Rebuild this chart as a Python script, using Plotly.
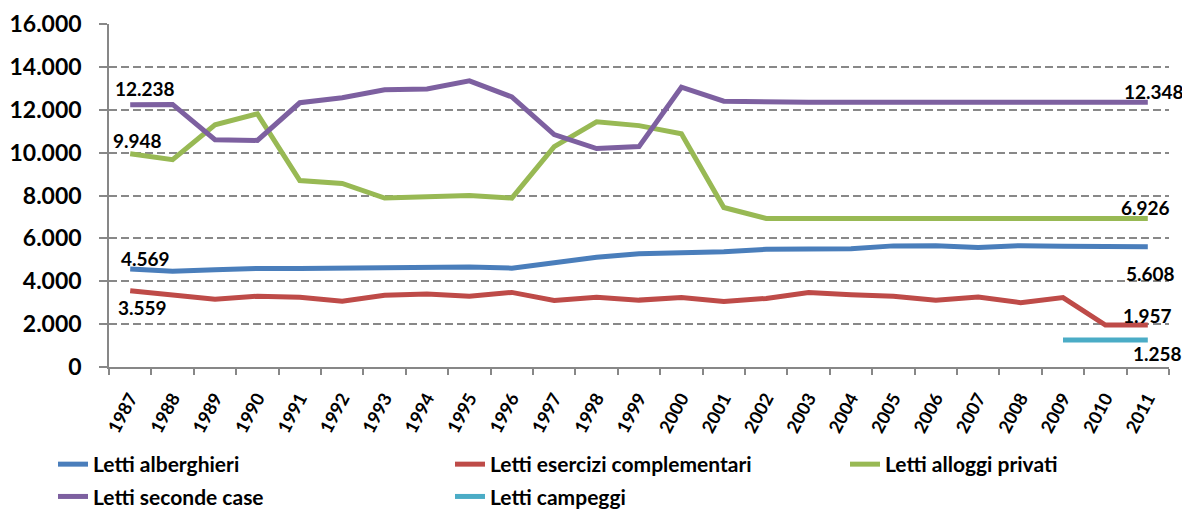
import plotly.graph_objects as go

years = [str(y) for y in range(1987, 2012)]

alberghieri = [4569, 4470, 4540, 4600, 4600, 4630, 4620, 4650, 4670, 4610, 4880, 5120, 5280, 5330, 5380,
               5490, 5490, 5520, 5650, 5660, 5570, 5660, 5630, 5630, 5608]
complementari = [3559, 3350, 3160, 3300, 3250, 3070, 3350, 3400, 3300, 3480, 3100, 3250, 3120, 3240, 3060,
                 3200, 3480, 3370, 3300, 3120, 3270, 3000, 3240, 1957, 1957]
alloggi_privati = [9948, 9670, 11300, 11810, 8700, 8560, 7880, 7960, 8000, 7880, 10280, 11440, 11260, 10880, 7440,
                   6926, 6926, 6926, 6926, 6926, 6926, 6926, 6926, 6926, 6926]
seconde_case = [12238, 12250, 10605, 10570, 12326, 12560, 12930, 12970, 13350, 12600, 10840, 10190, 10280, 13050, 12400,
                12348, 12348, 12348, 12348, 12348, 12348, 12348, 12348, 12348, 12348]
campeggi_years = ["2009", "2010", "2011"]
campeggi = [1258, 1258, 1258]

FONT = "Lato"
series = [
    ("Letti alberghieri", years, alberghieri, "#4A7EBB", "legend"),
    ("Letti esercizi complementari", years, complementari, "#BE4B48", "legend2"),
    ("Letti alloggi privati", years, alloggi_privati, "#98B954", "legend3"),
    ("Letti seconde case", years, seconde_case, "#7D60A0", "legend"),
    ("Letti campeggi", campeggi_years, campeggi, "#4BACC6", "legend2"),
]

fig = go.Figure()
for name, xs, ys, color, lg in series:
    fig.add_trace(go.Scatter(x=xs, y=ys, name=name, mode="lines", legendgroup=name,
                             line=dict(color=color, width=5), legend=lg))

# value labels: (category index, value, xshift, yshift)
first, last = 0, len(years) - 1
labels = [
    (first, seconde_case[0], 15, 16),
    (first, alloggi_privati[0], 7, 13),
    (first, alberghieri[0], 15, 11),
    (first, complementari[0], 12, -17),
    (last, seconde_case[-1], 6, 11),
    (last, alloggi_privati[-1], -2, 11),
    (last, alberghieri[-1], 3, -27),
    (last, complementari[-1], 0, 10),
    (last, campeggi[-1], 10, -13),
]
for x, y, xs, ys in labels:
    fig.add_annotation(x=x, y=y, xref="x", yref="y", text=f"{y:,}".replace(",", "."), showarrow=False,
                       xshift=xs, yshift=ys,
                       font=dict(family=FONT, size=19, color="black", weight="bold"))

legfont = dict(family=FONT, size=21, color="black", weight="bold")
PW = 1060.0
leg_y = -(444 - 367) / 343
fig.update_layout(
    width=1182, height=504,
    margin=dict(l=101, r=21, t=16, b=145, autoexpand=False),
    plot_bgcolor="white", paper_bgcolor="white",
    separators=",.",
    font=dict(family=FONT, color="black"),
    legend=dict(x=(53 - 109) / PW, y=leg_y, xanchor="left", yanchor="top",
                orientation="v", font=legfont, tracegroupgap=2, bgcolor="rgba(0,0,0,0)"),
    legend2=dict(x=(450 - 109) / PW, y=leg_y, xanchor="left", yanchor="top",
                 orientation="v", font=legfont, tracegroupgap=2, bgcolor="rgba(0,0,0,0)"),
    legend3=dict(x=(845 - 109) / PW, y=leg_y, xanchor="left", yanchor="top",
                 orientation="v", font=legfont, tracegroupgap=2, bgcolor="rgba(0,0,0,0)"),
)

fig.update_xaxes(type="category", range=[-0.5, 24.5], tickson="boundaries", ticks="outside",
                 ticklen=6, tickcolor="#878787", tickwidth=1.5, showline=True, linecolor="#878787",
                 linewidth=1.5, showgrid=False, tickangle=-62, ticklabelstandoff=12,
                 tickfont=dict(family=FONT, size=18, color="black", weight="bold"))
fig.update_yaxes(range=[0, 16000], dtick=2000, tickformat=",d", ticks="outside", ticklen=8,
                 tickcolor="#878787", tickwidth=1.5, showline=True, linecolor="#878787", linewidth=1.5,
                 showgrid=True, gridcolor="#888888", gridwidth=1.5, griddash="8px,4px", zeroline=False,
                 ticklabelstandoff=13,
                 tickfont=dict(family=FONT, size=23, color="black", weight="bold"))

fig.write_html("out.html")
